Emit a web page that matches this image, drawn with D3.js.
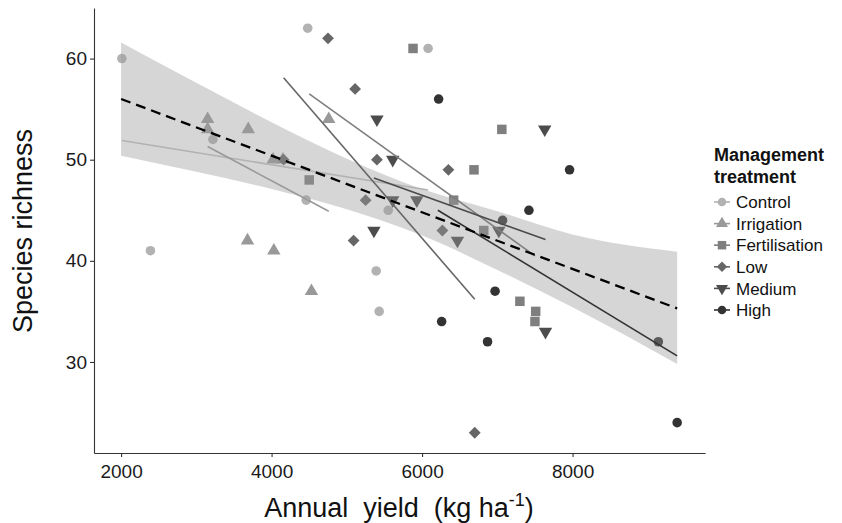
<!DOCTYPE html>
<html lang="en">
<head>
<meta charset="UTF-8">
<title>Species richness vs annual yield</title>
<style>
  body { margin: 0; background: #fff; }
  svg { display: block; font-family: "Liberation Sans", Arial, sans-serif; }
  .axis path, .axis line { stroke: #333; stroke-width: 1.1px; }
  .axis text { fill: #1a1a1a; font-size: 19px; font-family: "Liberation Sans", Arial, sans-serif; }
  .fit { fill: none; stroke-width: 1.6px; }
  .legend text { fill: #111; }
</style>
</head>
<body>
<div id="chart"></div>
<script src="https://d3js.org/d3.v7.min.js"></script>
<script>
const treatments = ["Control", "Irrigation", "Fertilisation", "Low", "Medium", "High"];

// annual yield (kg/ha) and species richness for each plot, by treatment
const controlYield = [2010, 2390, 3220, 4480, 4460, 5390, 5430, 5550, 6080];
const controlRich  = [60, 41, 52, 63, 46, 39, 35, 45, 61];
const irrigationYield = [3150, 3150, 3690, 4020, 4150, 4760, 3680, 4030, 4530];
const irrigationRich  = [54, 53, 53, 50, 50, 54, 42, 41, 37];
const fertYield = [5880, 7060, 6690, 4500, 6420, 6820, 7300, 7510, 7500];
const fertRich  = [61, 53, 49, 48, 46, 43, 36, 35, 34];
const lowYield = [4750, 5110, 4160, 5400, 6350, 5250, 6270, 5090, 6700];
const lowRich  = [62, 57, 50, 50, 49, 46, 43, 42, 23];
const mediumYield = [5400, 5610, 5360, 5610, 5930, 6470, 7020, 7630, 7640];
const mediumRich  = [54, 50, 43, 46, 46, 42, 43, 53, 33];
const highYield = [6220, 7960, 7420, 7070, 6970, 6260, 6870, 9140, 9390];
const highRich  = [56, 49, 45, 44, 37, 34, 32, 32, 24];

// fitted line per treatment: [yield start, richness start, yield end, richness end]
const fitControl = [2010, 51.9, 6080, 47.0];
const fitIrrigation = [3150, 51.3, 4760, 44.9];
const fitFert = [4500, 56.5, 7500, 40.5];
const fitLow = [4160, 58.1, 6700, 36.2];
const fitMedium = [5360, 48.2, 7640, 42.1];
const fitHigh = [6210, 45.0, 9390, 30.6];

// overall fit (dashed) and its confidence band
const overallFit = [2000, 56.0, 9390, 35.3];
const bandYield = [2000, 3000, 4000, 5000, 6000, 7000, 8000, 9390];
const bandLow   = [50.4, 48.8, 47.1, 45.1, 42.5, 39.1, 35.4, 29.8];
const bandHigh  = [61.6, 57.6, 53.7, 50.1, 47.1, 44.9, 42.6, 40.9];

const xTicks = [2000, 4000, 6000, 8000];
const yTicks = [30, 40, 50, 60];

const groups = [
  { name: "Control", xs: controlYield, ys: controlRich, fit: fitControl },
  { name: "Irrigation", xs: irrigationYield, ys: irrigationRich, fit: fitIrrigation },
  { name: "Fertilisation", xs: fertYield, ys: fertRich, fit: fitFert },
  { name: "Low", xs: lowYield, ys: lowRich, fit: fitLow },
  { name: "Medium", xs: mediumYield, ys: mediumRich, fit: fitMedium },
  { name: "High", xs: highYield, ys: highRich, fit: fitHigh }
];

const width = 842, height = 523;
const plot = { left: 94, right: 705, top: 8, bottom: 453 };

const color = d3.scaleOrdinal()
  .domain(treatments)
  .range(["#b2b2b2", "#999999", "#7f7f7f", "#666666", "#4c4c4c", "#333333"]);

// symbol type, area and rotation for each treatment
const shape = {
  Control: { type: d3.symbolCircle, size: 72, rot: 0 },
  Irrigation: { type: d3.symbolTriangle, size: 78, rot: 0 },
  Fertilisation: { type: d3.symbolSquare, size: 90, rot: 0 },
  Low: { type: d3.symbolSquare, size: 70, rot: 45 },
  Medium: { type: d3.symbolTriangle, size: 78, rot: 180 },
  High: { type: d3.symbolCircle, size: 72, rot: 0 }
};

const x = d3.scaleLinear().domain([1640, 9760]).range([plot.left, plot.right]);
const y = d3.scaleLinear().domain([21, 65]).range([plot.bottom, plot.top]);

const svg = d3.select("#chart").append("svg")
  .attr("width", width)
  .attr("height", height);

svg.append("rect").attr("width", width).attr("height", height).attr("fill", "#fff");

// points
groups.forEach(g => {
  const s = shape[g.name];
  const sym = d3.symbol().type(s.type).size(s.size);
  svg.append("g").selectAll("path")
    .data(d3.range(g.xs.length))
    .join("path")
    .attr("d", sym)
    .attr("fill", color(g.name))
    .attr("transform", i => `translate(${x(g.xs[i])},${y(g.ys[i])}) rotate(${s.rot})`);
});

// confidence band of the overall fit
const band = d3.area()
  .x(i => x(bandYield[i]))
  .y0(i => y(bandLow[i]))
  .y1(i => y(bandHigh[i]))
  .curve(d3.curveMonotoneX);

svg.append("path")
  .datum(d3.range(bandYield.length))
  .attr("d", band)
  .attr("fill", "#999")
  .attr("fill-opacity", 0.4);

// per-treatment fitted lines
svg.append("g").selectAll("line")
  .data(groups)
  .join("line")
  .attr("class", "fit")
  .attr("x1", g => x(g.fit[0]))
  .attr("y1", g => y(g.fit[1]))
  .attr("x2", g => x(g.fit[2]))
  .attr("y2", g => y(g.fit[3]))
  .attr("stroke", g => color(g.name));

// overall dashed fit
svg.append("line")
  .attr("x1", x(overallFit[0]))
  .attr("y1", y(overallFit[1]))
  .attr("x2", x(overallFit[2]))
  .attr("y2", y(overallFit[3]))
  .attr("stroke", "#000")
  .attr("stroke-width", 2.3)
  .attr("stroke-dasharray", "10,6");

// axes
svg.append("g")
  .attr("class", "axis")
  .attr("transform", `translate(0,${plot.bottom})`)
  .call(d3.axisBottom(x).tickValues(xTicks).tickFormat(d3.format("d"))
    .tickSize(4).tickSizeOuter(0).tickPadding(8));

svg.append("g")
  .attr("class", "axis")
  .attr("transform", `translate(${plot.left},0)`)
  .call(d3.axisLeft(y).tickValues(yTicks).tickSize(4).tickSizeOuter(0).tickPadding(3));

// axis titles
svg.append("text")
  .attr("transform", "translate(32,231) rotate(-90)")
  .attr("text-anchor", "middle")
  .attr("font-size", 27)
  .attr("fill", "#111")
  .text("Species richness");

const xt = svg.append("text")
  .attr("x", 399)
  .attr("y", 517)
  .attr("text-anchor", "middle")
  .attr("font-size", 27)
  .attr("fill", "#111")
  .style("white-space", "pre");
xt.append("tspan").text("Annual  yield  (kg ha");
xt.append("tspan").attr("font-size", 18).attr("dy", -11).text("-1");
xt.append("tspan").attr("dy", 11).text(")");

// legend
const legend = svg.append("g").attr("class", "legend");
legend.append("text").attr("x", 714).attr("y", 161)
  .attr("font-size", 18).attr("font-weight", "bold").text("Management");
legend.append("text").attr("x", 714).attr("y", 183)
  .attr("font-size", 18).attr("font-weight", "bold").text("treatment");

const rows = legend.selectAll("g.item")
  .data(treatments)
  .join("g")
  .attr("class", "item")
  .attr("transform", (d, i) => `translate(722,${202 + i * 21.6})`);

rows.append("line")
  .attr("x1", -8).attr("x2", 8)
  .attr("stroke", d => color(d))
  .attr("stroke-width", 1.6);

rows.append("path")
  .attr("d", d => d3.symbol().type(shape[d].type).size(shape[d].size * 0.8)())
  .attr("transform", d => `rotate(${shape[d].rot})`)
  .attr("fill", d => color(d));

rows.append("text")
  .attr("x", 14)
  .attr("dy", "0.36em")
  .attr("font-size", 17)
  .text(d => d);
</script>
</body>
</html>
